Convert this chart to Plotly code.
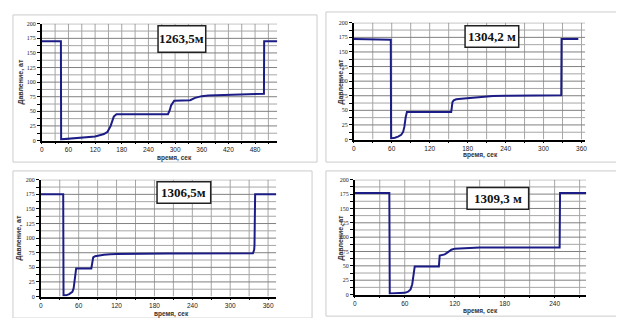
import plotly.graph_objects as go

# ---- data ----
labels = ["1263,5м", "1304,2 м", "1306,5м", "1309,3 м"]
x_title = "время, сек"
y_title = "Давление, ат"

t1 = [0, 43, 43.5, 60, 90, 120, 140, 148, 155, 162, 168, 200, 284, 288, 291, 298, 320, 334, 345, 360, 375, 420, 480, 500, 500.5, 530]
p1 = [170, 170, 2, 3, 5, 7, 11, 15, 25, 41, 45, 45, 45, 52, 60, 68, 69, 69, 73, 76, 77, 78, 79, 80, 170, 170]

t2 = [0, 56, 58.5, 59, 60, 65, 70, 75, 78, 80, 82, 84, 100, 154, 155, 156, 158, 162, 170, 180, 200, 220, 240, 300, 328, 328.5, 355]
p2 = [172, 172, 171, 2, 2, 3, 5, 8, 13, 22, 38, 47, 47, 47, 55, 64, 67, 69, 70, 71, 73, 74.5, 75, 75.5, 76, 172, 172]

t3 = [0, 35.5, 36, 40, 45, 50, 52, 54, 55, 56, 80, 81, 83, 86, 90, 100, 110, 120, 200, 300, 336, 338, 338.5, 339.5, 373]
p3 = [175, 175, 2, 2, 4, 8, 14, 30, 42, 48, 48, 55, 67, 69, 70, 71.5, 72.5, 73, 73.5, 73.5, 74, 80, 88, 175, 175]

t4 = [0, 41.5, 42, 50, 60, 64, 67, 69, 70, 72, 100, 101, 102, 106, 108, 112, 116, 120, 135, 150, 200, 246, 246.5, 278]
p4 = [177, 177, 2, 2, 3, 5, 9, 18, 30, 49, 49, 49, 68, 70, 70, 74, 78, 80, 81, 82, 82, 82, 177, 177]

xmax = [530, 366, 373, 278]
y_ticks = [0, 12.5, 25, 37.5, 50, 62.5, 75, 87.5, 100, 112.5, 125, 137.5, 150, 162.5, 175, 187.5, 200]

W, H = 624, 318
# plot areas in pixels: (x0, x1, ytop, ybottom)
areas = [(32, 269, 13, 132), (346, 579, 12, 131), (31, 268, 172, 291), (347, 580, 172, 289)]
borders = [(3, 309, 4, 154), (318, 618, 1, 154), (3, 304, 163, 313), (318, 618, 163, 311)]
boxes = [(149, 197, 15, 42), (458, 512, 15, 37), (148, 202, 174, 196), (460, 522, 180, 202)]
xtitle_pos = [(166, 150), (474, 147), (163, 309), (474, 306)]
ytitle_pos = [(11, 72), (333, 72), (9, 231), (333, 231)]
series = [(t1, p1), (t2, p2), (t3, p3), (t4, p4)]

fig = go.Figure()
LINE = "#1c1c86"
GRID = "#808080"
MINOR = "#a6a6a6"

shapes = []
annotations = []

for i, ((t, p), (x0, x1, yt, yb)) in enumerate(zip(series, areas)):
    n = "" if i == 0 else str(i + 1)
    xt = list(range(0, xmax[i] + 1, 30))
    # grid lines (thin line traces along the tick positions, beneath the data)
    gx, gy = [], []
    for v in xt[1:]:
        gx += [v, v, None]
        gy += [0, 200, None]
    fig.add_trace(go.Scatter(x=gx, y=gy, mode="lines", line=dict(color=MINOR, width=1),
                             xaxis="x" + n, yaxis="y" + n, showlegend=False, hoverinfo="skip"))
    hx_min, hy_min, hx_maj, hy_maj = [], [], [], []
    for v in y_ticks[1:]:
        if v % 25 == 0:
            hx_maj += [0, xmax[i], None]
            hy_maj += [v, v, None]
        else:
            hx_min += [0, xmax[i], None]
            hy_min += [v, v, None]
    fig.add_trace(go.Scatter(x=hx_min, y=hy_min, mode="lines", line=dict(color=MINOR, width=1),
                             xaxis="x" + n, yaxis="y" + n, showlegend=False, hoverinfo="skip"))
    fig.add_trace(go.Scatter(x=hx_maj, y=hy_maj, mode="lines", line=dict(color=GRID, width=1),
                             xaxis="x" + n, yaxis="y" + n, showlegend=False, hoverinfo="skip"))
    fig.add_trace(go.Scatter(x=t, y=p, mode="lines", line=dict(color=LINE, width=2),
                             xaxis="x" + n, yaxis="y" + n, showlegend=False, hoverinfo="skip"))
    fig.layout["xaxis" + n] = go.layout.XAxis(
        domain=[x0 / W, x1 / W], anchor="y" + n, range=[0, xmax[i]],
        tickmode="array", tickvals=xt,
        ticktext=[str(v) if v % 60 == 0 else "" for v in xt],
        ticks="outside", ticklen=2, tickcolor="black",
        showline=True, linecolor="black", linewidth=1.5,
        showgrid=False,
        tickfont=dict(family="Liberation Sans", size=6.5, color="#222"),
        zeroline=False,
    )
    fig.layout["yaxis" + n] = go.layout.YAxis(
        domain=[1 - yb / H, 1 - yt / H], anchor="x" + n, range=[0, 200],
        tickmode="array", tickvals=y_ticks,
        ticktext=[("%g" % v) if v % 25 == 0 else "" for v in y_ticks],
        ticks="outside", ticklen=3, tickcolor="black",
        showline=True, linecolor="black", linewidth=1.5,
        showgrid=False,
        tickfont=dict(family="Liberation Serif", size=6, color="#222"),
        zeroline=False,
    )

for (bx0, bx1, by0, by1) in borders:
    shapes.append(dict(type="rect", xref="paper", yref="paper",
                       x0=bx0 / W, x1=bx1 / W, y0=1 - by1 / H, y1=1 - by0 / H,
                       line=dict(color="#cccccc", width=1), fillcolor="rgba(0,0,0,0)"))
for lab, (bx0, bx1, by0, by1) in zip(labels, boxes):
    shapes.append(dict(type="rect", xref="paper", yref="paper",
                       x0=bx0 / W, x1=bx1 / W, y0=1 - by1 / H, y1=1 - by0 / H,
                       line=dict(color="#222", width=1.5), fillcolor="white", layer="above"))
    annotations.append(dict(xref="paper", yref="paper", x=(bx0 + bx1) / 2 / W, y=1 - (by0 + by1) / 2 / H,
                            text="<b>" + lab + "</b>", showarrow=False,
                            font=dict(family="Liberation Serif", size=13, color="#111"),
                            xanchor="center", yanchor="middle"))
for (xx, yy) in xtitle_pos:
    annotations.append(dict(xref="paper", yref="paper", x=xx / W, y=1 - yy / H,
                            text="<b>" + x_title + "</b>", showarrow=False,
                            font=dict(family="Liberation Sans", size=6.5, color="#333"),
                            xanchor="center", yanchor="middle"))
for (xx, yy) in ytitle_pos:
    annotations.append(dict(xref="paper", yref="paper", x=xx / W, y=1 - yy / H,
                            text="<b>" + y_title + "</b>", showarrow=False, textangle=-90,
                            font=dict(family="Liberation Sans", size=7, color="#333"),
                            xanchor="center", yanchor="middle"))

fig.update_layout(width=W, height=H, margin=dict(l=0, r=0, t=0, b=0),
                  paper_bgcolor="white", plot_bgcolor="white",
                  shapes=shapes, annotations=annotations)

fig.write_html("out.html")
